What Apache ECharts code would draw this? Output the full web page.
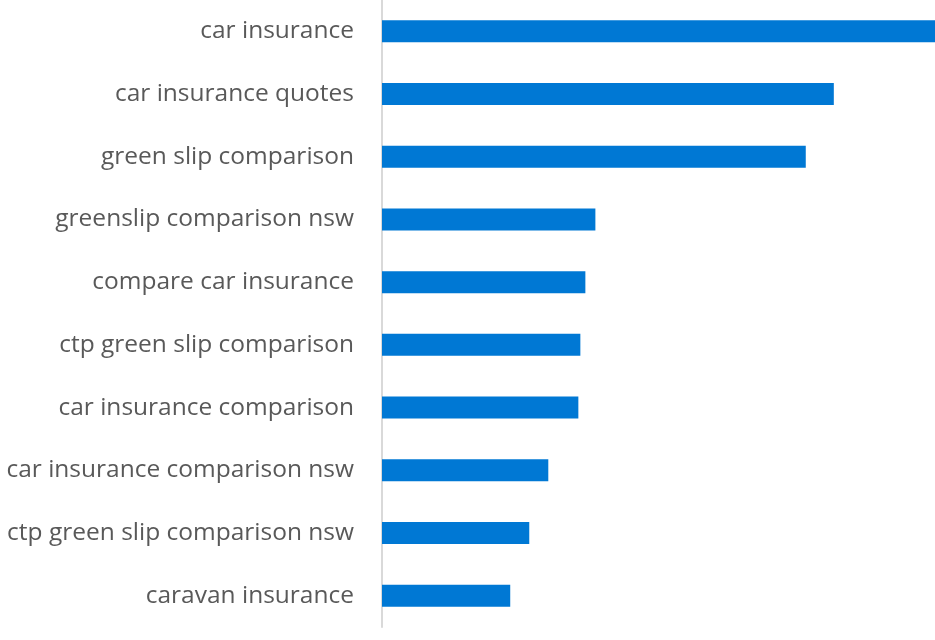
<!DOCTYPE html>
<html>
<head>
<meta charset="utf-8">
<script src="https://cdn.jsdelivr.net/npm/echarts@6/dist/echarts.min.js"></script>
<style>html,body{margin:0;padding:0;background:#fff}#c{width:935px;height:640px}</style>
</head>
<body>
<div id="c"></div>
<script>
var categories = [
  "car insurance",
  "car insurance quotes",
  "green slip comparison",
  "greenslip comparison nsw",
  "compare car insurance",
  "ctp green slip comparison",
  "car insurance comparison",
  "car insurance comparison nsw",
  "ctp green slip comparison nsw",
  "caravan insurance"
];
var values = [552, 451, 423, 213, 203, 198, 196, 166, 147, 128];

var chart = echarts.init(document.getElementById('c'), null, {renderer: 'canvas'});
chart.setOption({
  animation: false,
  grid: {left: 382, right: 0, top: -5, height: 632, containLabel: false},
  xAxis: {
    type: 'value', min: 0, max: 552,
    show: false
  },
  yAxis: {
    type: 'category', data: categories, inverse: true,
    axisLine: {show: true, lineStyle: {color: '#d9d9d9', width: 2}},
    axisTick: {show: false},
    splitLine: {show: false},
    axisLabel: {color: '#595959', fontSize: 24.5, fontFamily: 'Open Sans', margin: 28}
  },
  series: [{
    type: 'bar', data: values, barWidth: 22,
    itemStyle: {color: '#0078D4'}
  }]
});
</script>
</body>
</html>
